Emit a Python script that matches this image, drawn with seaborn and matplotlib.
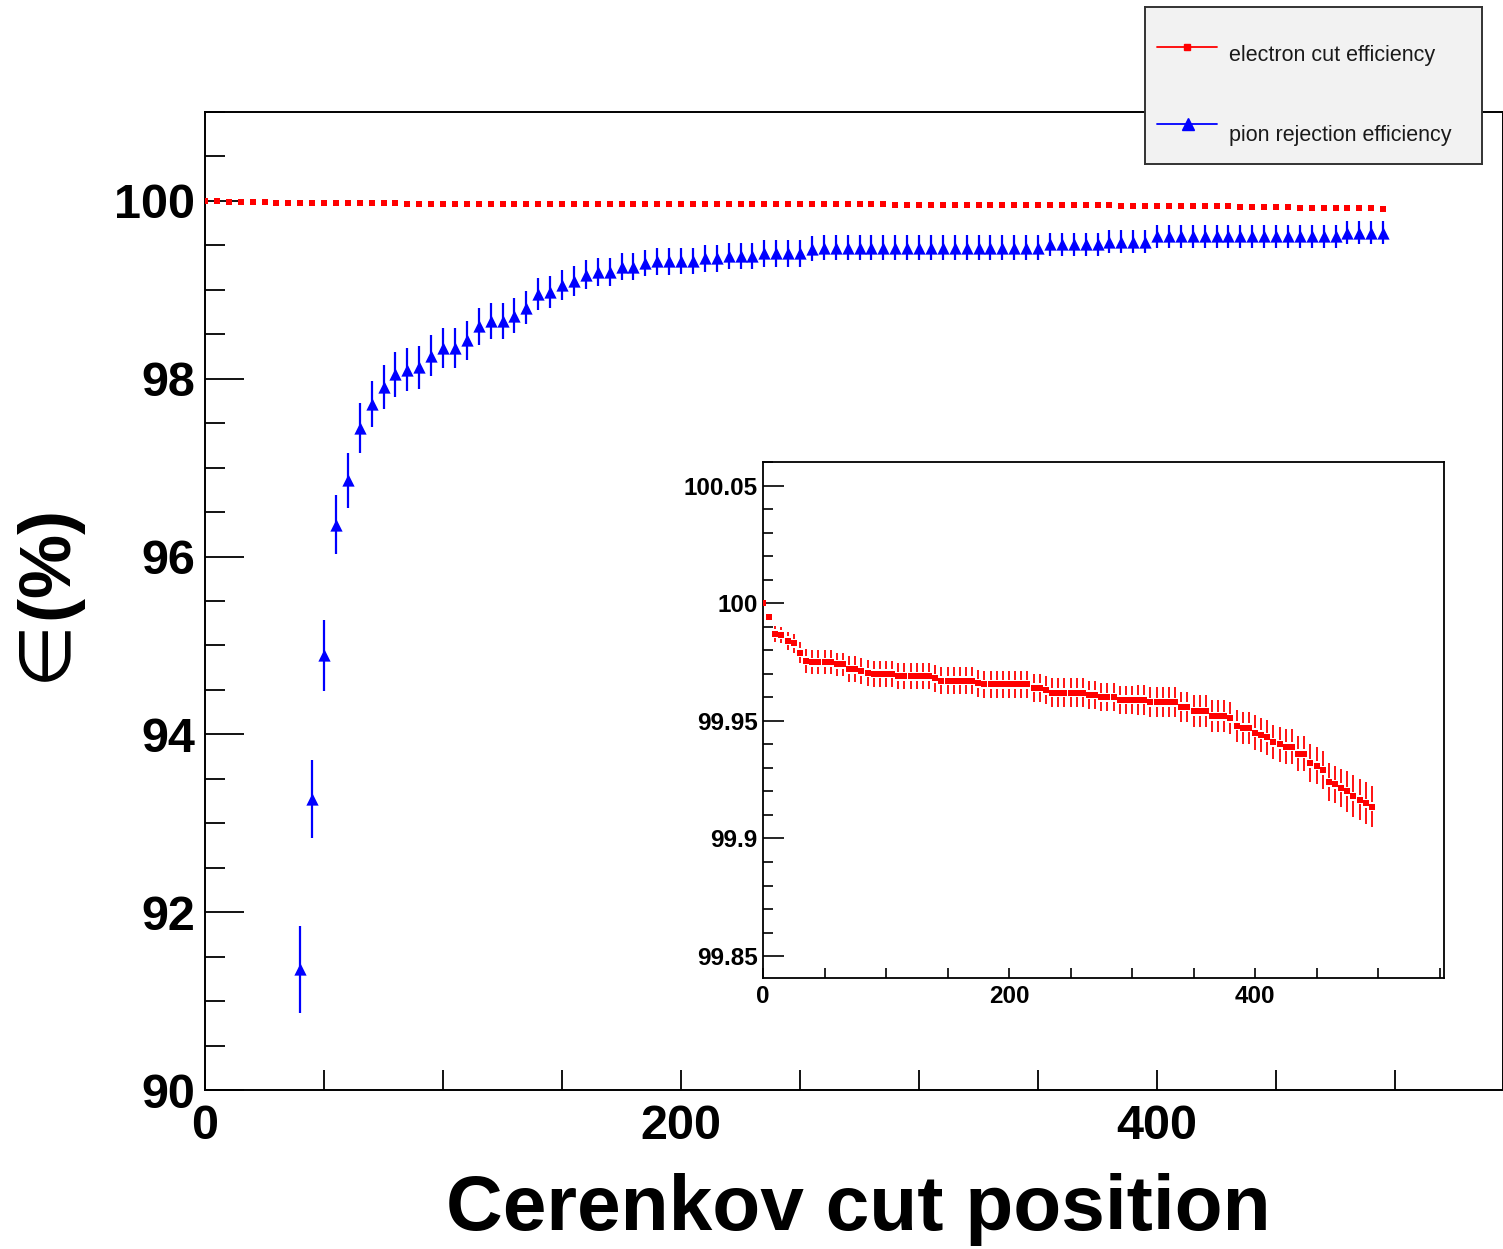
import numpy as np
import pandas as pd
import seaborn as sns
import matplotlib.pyplot as plt
from matplotlib.ticker import MultipleLocator, FuncFormatter

# ---- data -------------------------------------------------------------
electron_cut = list(range(0, 500, 5))
electron_eff = [
    100.000, 99.994, 99.987, 99.9865, 99.984, 99.983, 99.979, 99.9755, 99.975, 99.975,
    99.975, 99.975, 99.974, 99.974, 99.972, 99.972, 99.971, 99.9705, 99.970, 99.970,
    99.970, 99.970, 99.969, 99.969, 99.969, 99.969, 99.969, 99.969, 99.968, 99.967,
    99.967, 99.967, 99.967, 99.967, 99.967, 99.966, 99.9655, 99.9655, 99.9655, 99.9655,
    99.9655, 99.9655, 99.9655, 99.9655, 99.964, 99.964, 99.963, 99.962, 99.962, 99.962,
    99.962, 99.962, 99.962, 99.961, 99.961, 99.960, 99.960, 99.960, 99.959, 99.959,
    99.959, 99.959, 99.959, 99.958, 99.958, 99.958, 99.958, 99.958, 99.956, 99.956,
    99.954, 99.954, 99.954, 99.952, 99.952, 99.952, 99.951, 99.948, 99.947, 99.947,
    99.945, 99.944, 99.943, 99.941, 99.940, 99.939, 99.939, 99.936, 99.936, 99.932,
    99.931, 99.929, 99.924, 99.923, 99.9215, 99.920, 99.918, 99.9165, 99.915, 99.9135,
]
electron_err = [
    0.0, 0.0015, 0.0033, 0.0035, 0.0038, 0.0040, 0.0045, 0.0050, 0.0050, 0.0050,
    0.0050, 0.0050, 0.0050, 0.0050, 0.0055, 0.0055, 0.0055, 0.0055, 0.0055, 0.0055,
    0.0055, 0.0055, 0.0055, 0.0055, 0.0055, 0.0055, 0.0055, 0.0055, 0.0058, 0.0058,
    0.0058, 0.0058, 0.0058, 0.0058, 0.0058, 0.0058, 0.0058, 0.0058, 0.0058, 0.0058,
    0.0058, 0.0058, 0.0058, 0.0058, 0.0060, 0.0060, 0.0060, 0.0060, 0.0060, 0.0060,
    0.0060, 0.0060, 0.0060, 0.0060, 0.0060, 0.0060, 0.0060, 0.0060, 0.0060, 0.0060,
    0.0060, 0.0064, 0.0064, 0.0064, 0.0064, 0.0064, 0.0064, 0.0064, 0.0064, 0.0064,
    0.0068, 0.0068, 0.0068, 0.0068, 0.0068, 0.0068, 0.0068, 0.0068, 0.0068, 0.0068,
    0.0074, 0.0074, 0.0074, 0.0074, 0.0074, 0.0074, 0.0074, 0.0074, 0.0074, 0.0080,
    0.0080, 0.0080, 0.0080, 0.0080, 0.0080, 0.0088, 0.0088, 0.0088, 0.0088, 0.0088,
]

pion_cut = list(range(40, 500, 5))
pion_eff = [
    91.36, 93.27, 94.89, 96.36, 96.86, 97.45, 97.72, 97.91, 98.05, 98.10,
    98.13, 98.26, 98.35, 98.35, 98.43, 98.59, 98.65, 98.65, 98.71, 98.80,
    98.95, 98.97, 99.05, 99.10, 99.17, 99.20, 99.20, 99.26, 99.26, 99.30,
    99.32, 99.32, 99.325, 99.325, 99.355, 99.355, 99.38, 99.38, 99.38, 99.41,
    99.41, 99.41, 99.41, 99.46, 99.475, 99.475, 99.475, 99.475, 99.475, 99.475,
    99.475, 99.475, 99.475, 99.475, 99.475, 99.475, 99.475, 99.475, 99.475, 99.475,
    99.475, 99.475, 99.475, 99.51, 99.51, 99.51, 99.51, 99.51, 99.54, 99.54,
    99.54, 99.54, 99.60, 99.60, 99.60, 99.60, 99.60, 99.60, 99.60, 99.60,
    99.60, 99.60, 99.60, 99.60, 99.60, 99.60, 99.60, 99.60, 99.64, 99.64,
    99.64, 99.64,
]
pion_err = [
    0.49, 0.44, 0.40, 0.33, 0.31, 0.28, 0.26, 0.25, 0.25, 0.24,
    0.24, 0.23, 0.225, 0.225, 0.22, 0.21, 0.20, 0.20, 0.20, 0.19,
    0.18, 0.18, 0.17, 0.17, 0.16, 0.16, 0.16, 0.15, 0.15, 0.15,
    0.15, 0.15, 0.15, 0.15, 0.15, 0.15, 0.15, 0.15, 0.15, 0.15,
    0.15, 0.15, 0.15, 0.14, 0.14, 0.14, 0.14, 0.14, 0.14, 0.14,
    0.14, 0.14, 0.14, 0.14, 0.14, 0.14, 0.14, 0.14, 0.14, 0.14,
    0.14, 0.14, 0.14, 0.13, 0.13, 0.13, 0.13, 0.13, 0.13, 0.13,
    0.13, 0.13, 0.13, 0.13, 0.13, 0.13, 0.13, 0.13, 0.13, 0.13,
    0.13, 0.13, 0.13, 0.13, 0.13, 0.13, 0.13, 0.13, 0.13, 0.13,
    0.13, 0.13,
]

legend_labels = ["electron cut efficiency", "pion rejection efficiency"]
x_title = "Cerenkov cut position"
y_title = r"$\in\!$(%)"

electrons = pd.DataFrame({"cut": electron_cut, "eff": electron_eff, "err": electron_err})
pions = pd.DataFrame({"cut": pion_cut, "eff": pion_eff, "err": pion_err})

# ---- style ------------------------------------------------------------
sns.set_theme(style="ticks")
plt.rcParams["font.family"] = ["Liberation Sans", "DejaVu Sans"]
plt.rcParams["mathtext.fontset"] = "dejavusans"
for key in ("axes.edgecolor", "xtick.color", "ytick.color", "text.color",
            "axes.labelcolor", "xtick.labelcolor", "ytick.labelcolor"):
    plt.rcParams[key] = "black"

W, H = 1503, 1249
fig = plt.figure(figsize=(W / 100, H / 100), dpi=100)
fig.patch.set_facecolor("white")

fmt_g = FuncFormatter(lambda v, p: f"{v:g}")

# ---- main axes --------------------------------------------------------
ax = fig.add_axes([205 / W, 1 - 1090 / H, 1298 / W, 978 / H])
ax.set_facecolor("white")

ax.errorbar(pions["cut"], pions["eff"], yerr=pions["err"], fmt="none",
            ecolor="#0000ff", elinewidth=1.6, capsize=0, zorder=2)
sns.scatterplot(data=pions, x="cut", y="eff", marker="^", color="#0000ff",
                s=78, linewidth=0, ax=ax, zorder=3)
sns.scatterplot(data=electrons, x="cut", y="eff", marker="s", color="#ff0000",
                s=16, linewidth=0, ax=ax, zorder=3)

ax.set_xlim(0, 1298 / 2.38)
ax.set_ylim(90, 101)
ax.xaxis.set_major_locator(MultipleLocator(200))
ax.xaxis.set_minor_locator(MultipleLocator(50))
ax.yaxis.set_major_locator(MultipleLocator(2))
ax.yaxis.set_minor_locator(MultipleLocator(0.5))
ax.xaxis.set_major_formatter(fmt_g)
ax.yaxis.set_major_formatter(fmt_g)
ax.tick_params(axis="both", which="both", direction="in", width=1.3,
               top=False, right=False)
ax.tick_params(axis="y", which="major", length=28, pad=7)
ax.tick_params(axis="y", which="minor", length=14.5)
ax.tick_params(axis="x", which="both", length=14.5, pad=10)
for lab in ax.get_xticklabels() + ax.get_yticklabels():
    lab.set_fontsize(35)
    lab.set_fontweight("bold")
for sp in ax.spines.values():
    sp.set_linewidth(1.4)
    sp.set_color("black")

ax.set_xlabel(x_title, fontsize=56.5, fontweight="bold", va="center", color="black")
ax.xaxis.set_label_coords(0.503, -0.1225)
ax.set_ylabel(y_title, fontsize=52, fontweight="bold", va="center", color="black")
ax.yaxis.set_label_coords(-0.118, 0.494)

# ---- inset axes -------------------------------------------------------
axi = fig.add_axes([763 / W, 1 - 978 / H, 681 / W, 516 / H])
axi.set_facecolor("white")
axi.set_xlim(0, 681 / 1.23)
axi.set_ylim(99.8407, 100.06)

# error bars leave a small gap around each marker
ax_h_px = axi.get_position().height * H
gap = 4.5 * (100.06 - 99.8407) / ax_h_px
bars = electrons[electrons["err"] > gap]
axi.vlines(bars["cut"], bars["eff"] + gap, bars["eff"] + bars["err"],
           color="#ff0000", linewidth=1.3, zorder=2)
axi.vlines(bars["cut"], bars["eff"] - bars["err"], bars["eff"] - gap,
           color="#ff0000", linewidth=1.3, zorder=2)
sns.scatterplot(data=electrons, x="cut", y="eff", marker="s", color="#ff0000",
                s=13, linewidth=0, ax=axi, zorder=3)

axi.xaxis.set_major_locator(MultipleLocator(200))
axi.xaxis.set_minor_locator(MultipleLocator(50))
axi.yaxis.set_major_locator(MultipleLocator(0.05))
axi.yaxis.set_minor_locator(MultipleLocator(0.01))
axi.xaxis.set_major_formatter(fmt_g)
axi.yaxis.set_major_formatter(fmt_g)
axi.tick_params(axis="both", which="both", direction="in", width=1.2,
                top=False, right=False)
axi.tick_params(axis="y", which="major", length=15, pad=4)
axi.tick_params(axis="y", which="minor", length=7.5)
axi.tick_params(axis="x", which="both", length=7.5, pad=5)
for lab in axi.get_xticklabels() + axi.get_yticklabels():
    lab.set_fontsize(17.5)
    lab.set_fontweight("bold")
for sp in axi.spines.values():
    sp.set_linewidth(1.3)
    sp.set_color("black")
axi.set_xlabel("")
axi.set_ylabel("")

# ---- legend box -------------------------------------------------------
lg = fig.add_axes([1145 / W, 1 - 164 / H, 337 / W, 157 / H])
lg.set_facecolor("#f2f2f2")
lg.set_xlim(0, 337)
lg.set_ylim(157, 0)
lg.set_xticks([])
lg.set_yticks([])
for sp in lg.spines.values():
    sp.set_linewidth(1.4)
    sp.set_color("#333333")
lg.plot([12, 72], [40, 40], color="#ff0000", lw=1.3)
lg.plot([42], [40], marker="s", ms=4, color="#ff0000", lw=0)
lg.text(84, 49, legend_labels[0], fontsize=15.5, va="center", color="#1a1a1a")
lg.plot([12, 72], [117, 117], color="#0000ff", lw=1.3)
lg.plot([43], [117], marker="^", ms=8, color="#0000ff", lw=0)
lg.text(84, 128, legend_labels[1], fontsize=15.5, va="center", color="#1a1a1a")

fig.savefig("out.png", dpi=100)
